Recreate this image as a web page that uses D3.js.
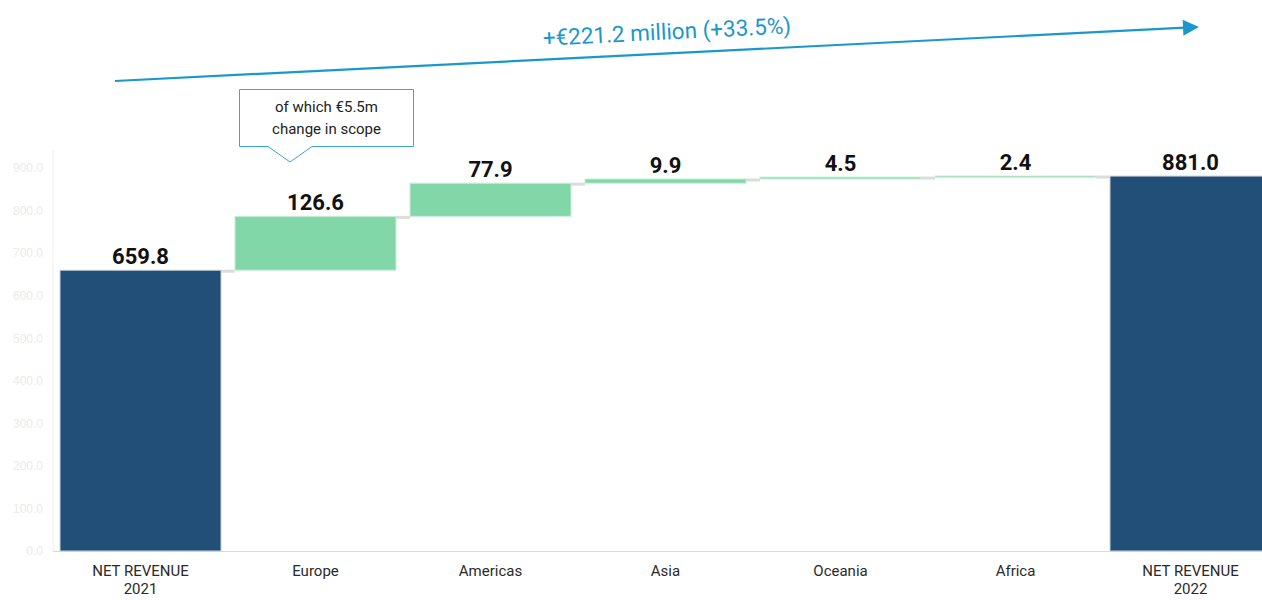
<!DOCTYPE html>
<html>
<head>
<meta charset="utf-8">
<script src="https://cdn.jsdelivr.net/npm/d3@7"></script>
<style>
  html, body { margin: 0; padding: 0; background: #fff; }
  svg { display: block; font-family: Roboto, "Open Sans", sans-serif; }
</style>
</head>
<body>
<svg id="chart" width="1262" height="600"></svg>
<script>
// Net revenue bridge, 2021 -> 2022 (€ million)
const categories = ["NET REVENUE\n2021", "Europe", "Americas", "Asia", "Oceania", "Africa", "NET REVENUE\n2022"];
const values = [659.8, 126.6, 77.9, 9.9, 4.5, 2.4, 881.0];
const kinds = ["total", "delta", "delta", "delta", "delta", "delta", "total"];
const yTicks = [0, 100, 200, 300, 400, 500, 600, 700, 800, 900];
const headline = "+€221.2 million (+33.5%)";
const calloutLines = ["of which €5.5m", "change in scope"];

const navy = "#214f78", green = "#82d7a8", blue = "#1a98cc";

const svg = d3.select("#chart");
const W = 1262;

const x = d3.scaleBand()
  .domain(categories)
  .range([53, 53 + 7 * 175])
  .paddingInner(0.08)
  .paddingOuter(0.04);

const y = d3.scaleLinear().domain([0, 900]).range([551, 168]);

// running totals for the floating bars
let run = 0;
const bars = categories.map((c, i) => {
  let y0, y1;
  if (kinds[i] === "total") { y0 = 0; y1 = values[i]; run = values[i]; }
  else { y0 = run; y1 = run + values[i]; run = y1; }
  return { c, v: values[i], kind: kinds[i], y0, y1 };
});

// y axis (very faint labels)
const yAxis = d3.axisLeft(y).tickValues(yTicks).tickFormat(d3.format(".1f")).tickSize(0).tickPadding(10);
const gy = svg.append("g").attr("transform", "translate(53,0)").call(yAxis);
gy.select(".domain").attr("stroke", "#ededed").attr("d", `M0,${y(0)}V150`);
gy.selectAll("text").attr("fill", "#ebebeb").attr("font-size", 12);

// baseline
svg.append("line")
  .attr("x1", 53).attr("x2", W)
  .attr("y1", y(0) + 0.5).attr("y2", y(0) + 0.5)
  .attr("stroke", "#dadada").attr("stroke-width", 1);

// connectors between consecutive bars
for (let i = 0; i < bars.length - 1; i++) {
  const lvl = bars[i].y1;
  svg.append("line")
    .attr("x1", x(bars[i].c) + x.bandwidth())
    .attr("x2", x(bars[i + 1].c))
    .attr("y1", y(lvl) + 1).attr("y2", y(lvl) + 1)
    .attr("stroke", "#dcdcdc").attr("stroke-width", 3);
}

// bars
svg.append("g").selectAll("rect").data(bars).join("rect")
  .attr("x", d => x(d.c))
  .attr("width", x.bandwidth())
  .attr("y", d => y(Math.max(d.y0, d.y1)))
  .attr("height", d => Math.max(1.5, Math.abs(y(d.y0) - y(d.y1))))
  .attr("fill", d => d.kind === "total" ? navy : green)
  .attr("stroke", d => d.kind === "total" ? "#c8d0d8" : "#c9eed9")
  .attr("stroke-width", 1);

// value labels
svg.append("g").selectAll("text").data(bars).join("text")
  .attr("x", d => x(d.c) + x.bandwidth() / 2)
  .attr("y", d => y(Math.max(d.y0, d.y1)) - 6)
  .attr("text-anchor", "middle")
  .attr("font-size", 22).attr("font-weight", 700)
  .attr("fill", "#111")
  .text(d => d.v.toFixed(1));

// category labels
const gx = svg.append("g");
categories.forEach(c => {
  const cxm = x(c) + x.bandwidth() / 2;
  const t = gx.append("text")
    .attr("x", cxm)
    .attr("y", 576)
    .attr("text-anchor", "middle")
    .attr("font-size", 15)
    .attr("fill", "#2a2a2a");
  c.split("\n").forEach((line, k) => {
    t.append("tspan").attr("x", cxm).attr("dy", k === 0 ? 0 : 18).text(line);
  });
});

// growth arrow across the top
const ax0 = 115, ay0 = 81, ax1 = 1199, ay1 = 27;
const ang = Math.atan2(ay1 - ay0, ax1 - ax0) * 180 / Math.PI;
const len = Math.hypot(ax1 - ax0, ay1 - ay0);
const ga = svg.append("g").attr("transform", `translate(${ax0},${ay0}) rotate(${ang})`);
ga.append("line").attr("x1", 0).attr("y1", 0).attr("x2", len - 14).attr("y2", 0)
  .attr("stroke", blue).attr("stroke-width", 2.2);
ga.append("path").attr("d", `M${len},0L${len - 16},-8L${len - 16},8Z`).attr("fill", blue);
ga.append("text")
  .attr("x", (668 - ax0) / Math.cos(ang * Math.PI / 180))
  .attr("y", -14)
  .attr("text-anchor", "middle")
  .attr("font-size", 22.5)
  .attr("fill", blue)
  .text(headline);

// callout above the Europe bar
const cx0 = 239.5, cx1 = 413.5, cy0 = 89.5, cy1 = 146.5, tipX = 290, tipY = 162;
svg.append("path")
  .attr("d", `M${cx0},${cy0}H${cx1}V${cy1}H${tipX + 22}L${tipX},${tipY}L${tipX - 22},${cy1}H${cx0}Z`)
  .attr("fill", "#fff").attr("stroke", "#3aa6c8").attr("stroke-width", 1);
calloutLines.forEach((t, k) => {
  svg.append("text")
    .attr("x", (cx0 + cx1) / 2).attr("y", 112 + k * 22)
    .attr("text-anchor", "middle")
    .attr("font-size", 15).attr("fill", "#222")
    .text(t);
});
</script>
</body>
</html>
